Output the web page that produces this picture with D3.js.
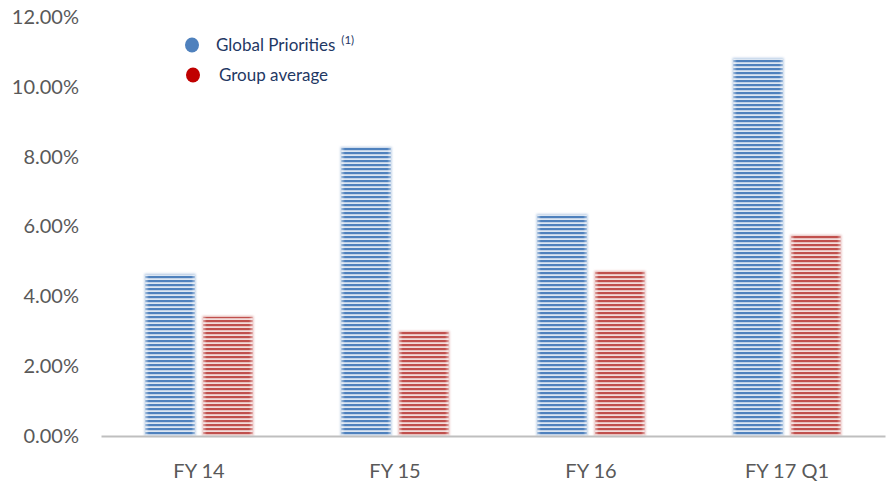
<!DOCTYPE html>
<html>
<head>
<meta charset="utf-8">
<script src="https://cdn.jsdelivr.net/npm/d3@7"></script>
<style>
  html, body { margin: 0; padding: 0; background: #ffffff; }
  svg { display: block; }
</style>
</head>
<body>
<svg id="chart" width="896" height="490"></svg>
<script>
// Share of growth by period
const categories = ["FY 14", "FY 15", "FY 16", "FY 17 Q1"];
const seriesNames = ["Global Priorities", "Group average"];
const globalPriorities = [4.62, 8.25, 6.33, 10.80];
const groupAverage = [3.41, 2.98, 4.70, 5.73];
const yTicks = [0, 2, 4, 6, 8, 10, 12];

const W = 896, H = 490;
const plot = { left: 101, right: 885, top: 17, bottom: 436 };
const svg = d3.select("#chart");
const font = "Lato, 'Open Sans', sans-serif";

const palette = [
  { dark: "#4f81bd", light: "#dce6f2", edge: "#b9cde5", id: "stripeBlue" },
  { dark: "#c0504d", light: "#f2dcdb", edge: "#e6b9b8", id: "stripeRed" }
];

// Horizontal stripe fills
const defs = svg.append("defs");
palette.forEach(p => {
  const pat = defs.append("pattern")
    .attr("id", p.id)
    .attr("patternUnits", "userSpaceOnUse")
    .attr("width", 8).attr("height", 4);
  pat.append("rect").attr("width", 8).attr("height", 4).attr("fill", p.light);
  pat.append("rect").attr("y", 0).attr("width", 8).attr("height", 2.2).attr("fill", p.dark);
});
// soft fade at the bar edges
const fade = defs.append("linearGradient").attr("id", "edgeFade")
  .attr("x1", "0").attr("x2", "1").attr("y1", "0").attr("y2", "0");
[[0, 0.45], [0.07, 0], [0.93, 0], [1, 0.45]].forEach(([o, a]) =>
  fade.append("stop").attr("offset", o).attr("stop-color", "#ffffff").attr("stop-opacity", a));
defs.append("filter").attr("id", "glow").attr("x", "-20%").attr("y", "-20%")
  .attr("width", "140%").attr("height", "140%")
  .append("feGaussianBlur").attr("stdDeviation", 1.1);

const x0 = d3.scaleBand().domain(categories).range([plot.left, plot.right]).paddingInner(0).paddingOuter(0);
const x1 = d3.scaleBand().domain(seriesNames).range([0, x0.bandwidth()]).paddingInner(0.15).paddingOuter(0.77);
const y = d3.scaleLinear().domain([0, 12]).range([plot.bottom, plot.top]);

// Y axis labels
const yAxis = d3.axisLeft(y).tickValues(yTicks).tickSize(0).tickPadding(0)
  .tickFormat(d => d3.format(".2f")(d) + "%");
const yg = svg.append("g").attr("transform", `translate(79,0)`).call(yAxis);
yg.select(".domain").remove();
yg.selectAll("text").attr("font-family", font).attr("font-size", 20).attr("fill", "#595959");

// Bars
const data = categories.map((c, i) => ({ cat: c, values: [globalPriorities[i], groupAverage[i]] }));
const groups = svg.append("g").selectAll("g").data(data).join("g")
  .attr("transform", d => `translate(${x0(d.cat)},0)`);
groups.each(function(d) {
  const g = d3.select(this);
  d.values.forEach((v, k) => {
    const p = palette[k];
    const bx = x1(seriesNames[k]), bw = x1.bandwidth();
    const by = y(v), bh = y(0) - y(v);
    g.append("rect").attr("x", bx - 1).attr("y", by - 1).attr("width", bw + 2).attr("height", bh + 1)
      .attr("fill", p.edge).attr("filter", "url(#glow)");
    g.append("rect").attr("x", bx).attr("y", by).attr("width", bw).attr("height", bh)
      .attr("fill", `url(#${p.id})`);
    g.append("rect").attr("x", bx).attr("y", by).attr("width", bw).attr("height", bh)
      .attr("fill", "url(#edgeFade)");
  });
});

// X axis
const xAxis = d3.axisBottom(x0).tickSize(0).tickPadding(0);
const xg = svg.append("g").attr("transform", `translate(0,${plot.bottom})`).call(xAxis);
xg.select(".domain").attr("stroke", "#bfbfbf").attr("stroke-width", 2);
xg.selectAll("text").attr("font-family", font).attr("font-size", 20).attr("fill", "#595959")
  .attr("dy", null).attr("y", 42);

// Legend
const legend = svg.append("g");
const legendRows = [
  { name: seriesNames[0], color: "#4f81bd", cx: 192, cy: 45, tx: 216, ty: 51, sup: "(1)" },
  { name: seriesNames[1], color: "#c00000", cx: 193, cy: 75, tx: 219, ty: 81 }
];
legendRows.forEach(r => {
  legend.append("ellipse").attr("cx", r.cx).attr("cy", r.cy).attr("rx", 7).attr("ry", 7.5).attr("fill", r.color);
  const t = legend.append("text").attr("x", r.tx).attr("y", r.ty)
    .attr("font-family", font).attr("font-size", 17).attr("fill", "#1f3864").text(r.name);
  if (r.sup) {
    t.append("tspan").attr("dx", 6).attr("dy", -7).attr("font-size", 11.5).text(r.sup);
  }
});
</script>
</body>
</html>
